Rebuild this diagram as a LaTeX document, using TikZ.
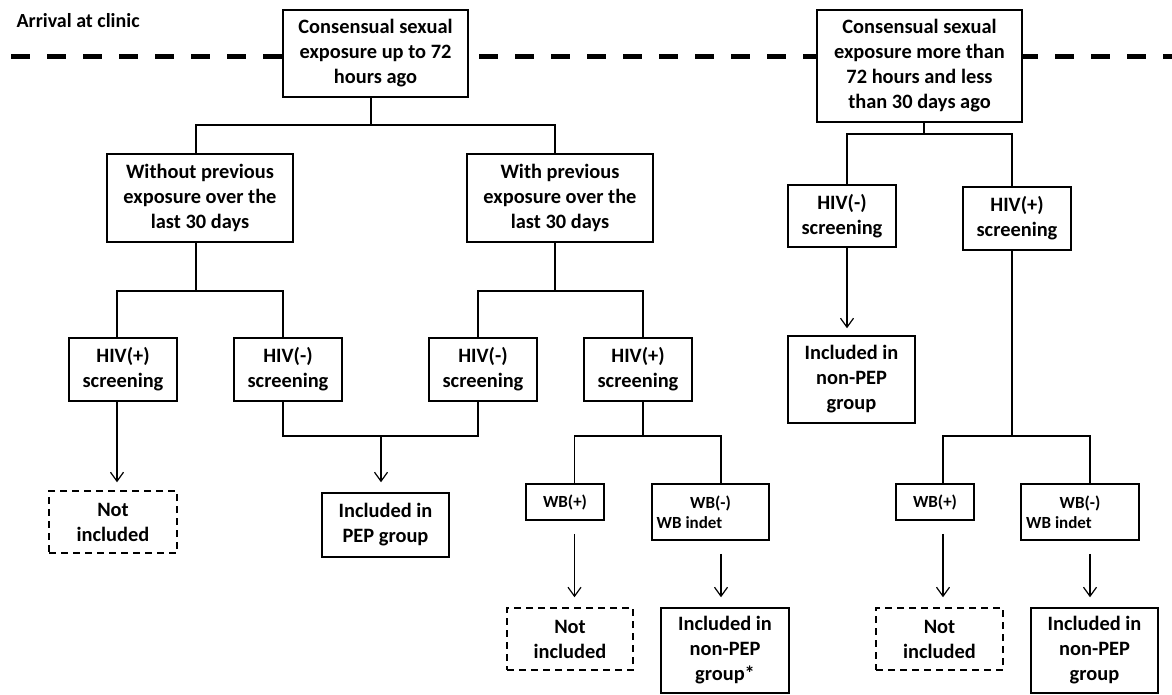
\documentclass[tikz,border=0pt]{standalone}
\usepackage{fontspec}
\setmainfont{Carlito}
\usetikzlibrary{arrows.meta}
\begin{document}
\begin{tikzpicture}[x=1pt,y=-1pt,
  box/.style={draw, line width=1.5pt, fill=white, inner sep=0pt, align=center,
    font=\bfseries\fontsize{20.4}{25}\selectfont},
  wbbox/.style={box, font=\bfseries\fontsize{17}{20}\selectfont},
  dbox/.style={box, dash pattern=on 7pt off 5pt},
  conn/.style={line width=1.2pt},
  arr/.style={line width=1.2pt, -{Straight Barb[length=9pt,width=13pt,line width=1.2pt]}},
  sep/.style={line width=5pt, dash pattern=on 19pt off 17pt}
]
\useasboundingbox (0,0) rectangle (1172,695);
\fill[white] (0,0) rectangle (1172,695);

% separator line
\coordinate (dl) at (11,57);
\coordinate (dr) at (1172,57);
\draw[sep] (dl) -- (dr);

\node[anchor=west, font=\bfseries\fontsize{20}{24}\selectfont] (arrival) at (13,21) {Arrival at clinic};

% row 1
\node[box, minimum width=185pt, minimum height=87pt] (b1) at (375.5,53.5)
  {Consensual sexual\\exposure up to 72\\hours ago};
\node[box, minimum width=205pt, minimum height=112pt] (b2) at (919.5,66)
  {Consensual sexual\\exposure more than\\72 hours and less\\than 30 days ago};

% row 2
\node[box, minimum width=186pt, minimum height=88pt] (wo) at (200,198)
  {Without previous\\exposure over the\\last 30 days};
\node[box, minimum width=186pt, minimum height=88pt] (wi) at (560,198)
  {With previous\\exposure over the\\last 30 days};
\node[box, minimum width=108pt, minimum height=62pt] (hm3) at (842,216)
  {HIV(-)\\screening};
\node[box, minimum width=108pt, minimum height=63pt] (hp3) at (1017,218.5)
  {HIV(+)\\screening};

% row 3
\node[box, minimum width=108pt, minimum height=63pt] (hp1) at (123,369.5) {HIV(+)\\screening};
\node[box, minimum width=108pt, minimum height=63pt] (hm1) at (288,369.5) {HIV(-)\\screening};
\node[box, minimum width=108pt, minimum height=63pt] (hm2) at (483,369.5) {HIV(-)\\screening};
\node[box, minimum width=108pt, minimum height=63pt] (hp2) at (638,369.5) {HIV(+)\\screening};
\node[box, minimum width=127pt, minimum height=87pt] (incr) at (851.5,379.5)
  {Included in\\non-PEP\\group};

% row 4
\node[dbox, minimum width=128pt, minimum height=62pt] (ni1) at (113,522) {Not\\included};
\node[box, minimum width=127pt, minimum height=64pt] (pep) at (385.5,525) {Included in\\PEP group};
\node[wbbox, minimum width=78pt, minimum height=36pt] (wbp1) at (565,502) {WB(+)};
\node[wbbox, minimum width=117pt, minimum height=56pt] (wbm1) at (710.5,512)
  {WB(-)\\WB indet\hspace*{42pt}};
\node[wbbox, minimum width=78pt, minimum height=36pt] (wbp2) at (935,502) {WB(+)};
\node[wbbox, minimum width=118pt, minimum height=56pt] (wbm2) at (1080,512)
  {WB(-)\\WB indet\hspace*{42pt}};

% row 5
\node[dbox, minimum width=126pt, minimum height=62pt] (ni2) at (570,639) {Not\\included};
\node[box, minimum width=128pt, minimum height=85pt] (incs) at (725,650.5)
  {Included in\\non-PEP\\group*};
\node[dbox, minimum width=127pt, minimum height=62pt] (ni3) at (939.5,639) {Not\\included};
\node[box, minimum width=127pt, minimum height=85pt] (incr2) at (1094.5,650.5)
  {Included in\\non-PEP\\group};

% junction coordinates
\coordinate (h1) at (371,125);
\coordinate (h2) at (196,291);
\coordinate (h3) at (555,291);
\coordinate (h4) at (381,436);
\coordinate (h5) at (643,436);
\coordinate (h6) at (924,134);
\coordinate (h7) at (1012,436);

% left tree
\draw[conn] ([xshift=-4.5pt]b1.south) -- (h1);
\draw[conn] ([xshift=-4pt]wo.north) |- (h1) -| ([xshift=-5pt]wi.north);
\draw[conn] ([xshift=-4pt]wo.south) -- (h2);
\draw[conn] ([xshift=-6pt]hp1.north) |- (h2) -| ([xshift=-5pt]hm1.north);
\draw[conn] ([xshift=-5pt]wi.south) -- (h3);
\draw[conn] ([xshift=-5pt]hm2.north) |- (h3) -| ([xshift=5pt]hp2.north);

\draw[arr, shorten >=8pt] ([xshift=-6pt]hp1.south) -- ([xshift=-6pt]hp1.south |- ni1.north);
\draw[conn] ([xshift=-5pt]hm1.south) |- (h4) -| ([xshift=-5pt]hm2.south);
\draw[arr, shorten >=10pt] (h4) -- (h4 |- pep.north);

\draw[conn] ([xshift=5pt]hp2.south) -- (h5);
\draw[conn] ([xshift=9.5pt]wbp1.north) |- (h5) -| ([xshift=10.5pt]wbm1.north);
\draw[arr, shorten <=13pt, shorten >=10pt] ([xshift=9.5pt]wbp1.south) -- ([xshift=9.5pt]wbp1.south |- ni2.north);
\draw[arr, shorten <=13pt, shorten >=10pt] ([xshift=10.5pt]wbm1.south) -- ([xshift=10.5pt]wbm1.south |- incs.north);

% right tree
\draw[conn] ([xshift=4.5pt]b2.south) -- (h6);
\draw[conn] ([xshift=5pt]hm3.north) |- (h6) -| ([xshift=-5pt]hp3.north);
\draw[arr, shorten >=7pt] ([xshift=5pt]hm3.south) -- ([xshift=5pt]hm3.south |- incr.north);
\draw[conn] ([xshift=-5pt]hp3.south) -- (h7);
\draw[conn] ([xshift=8pt]wbp2.north) |- (h7) -| ([xshift=10pt]wbm2.north);
\draw[arr, shorten <=13pt, shorten >=10pt] ([xshift=8pt]wbp2.south) -- ([xshift=8pt]wbp2.south |- ni3.north);
\draw[arr, shorten <=13pt, shorten >=10pt] ([xshift=10pt]wbm2.south) -- ([xshift=10pt]wbm2.south |- incr2.north);
\end{tikzpicture}
\end{document}
